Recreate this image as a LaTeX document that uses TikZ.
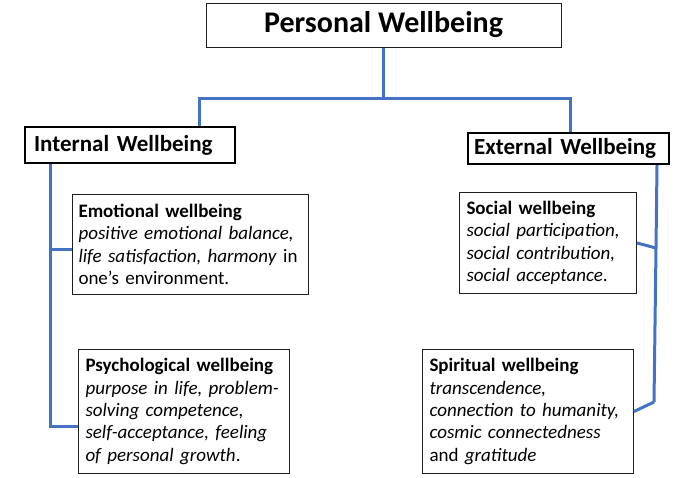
\documentclass[tikz,border=0pt]{standalone}
\usepackage{fontspec}
\setmainfont{Carlito}
\usepackage{tikz}
\usetikzlibrary{positioning, calc}
\definecolor{mydark}{RGB}{30,30,30}
\definecolor{myblue}{RGB}{68,114,196}
\tikzset{
  titlebox/.style={rectangle, draw=mydark, fill=white, line width=1pt,
    minimum width=355pt, minimum height=44pt, inner sep=0pt,
    font=\fontsize{30}{36}\selectfont\bfseries},
  groupbox/.style={rectangle, draw=black, fill=white, line width=2.2pt,
    align=left, inner ysep=0pt, minimum height=#1,
    font=\fontsize{23}{28}\selectfont\bfseries},
  itembox/.style={rectangle, draw=mydark, fill=white, line width=1pt,
    align=left, inner xsep=7pt, inner ysep=4pt, minimum height=#1,
    font=\fontsize{19}{22.4}\selectfont},
  branch/.style={line width=3pt, color=myblue}
}

\begin{document}
\begin{tikzpicture}[x=1pt, y=-1pt]
  \useasboundingbox (0,0) rectangle (677,477);

  % Top
  \node[titlebox] (personal) at (383.5,25) {Personal Wellbeing};

  % Internal / external
  \node[groupbox=36pt, inner xsep=9pt, text width=192pt, anchor=north west] (internal) at (24,126) {Internal Wellbeing};
  \node[groupbox=31pt, inner xsep=6pt, text width=189pt, anchor=north west] (external) at (467,132) {External Wellbeing};

  % Left column
  \node[itembox=100pt, inner xsep=6pt, text width=224pt, anchor=north west] (emotional) at (72,194)
    {\textbf{Emotional wellbeing}\\
     \textit{positive emotional balance,}\\
     \textit{life satisfaction, harmony} in\\
     one’s environment.};
  \node[itembox=124pt, text width=197pt, anchor=north west] (psych) at (78,349)
    {\textbf{Psychological wellbeing}\\
     \textit{purpose in life, problem-}\\
     \textit{solving competence,}\\
     \textit{self-acceptance, feeling}\\
     \textit{of personal growth}.};

  % Right column
  \node[itembox=101pt, text width=163pt, anchor=north west] (social) at (459,192)
    {\textbf{Social wellbeing}\\
     \textit{social participation,}\\
     \textit{social contribution,}\\
     \textit{social acceptance}.};
  \node[itembox=124pt, text width=197pt, anchor=north west] (spiritual) at (422,349)
    {\textbf{Spiritual wellbeing}\\
     \textit{transcendence,}\\
     \textit{connection to humanity,}\\
     \textit{cosmic connectedness}\\
     and \textit{gratitude}};

  % Connectors
  \coordinate (lhook) at (199,98);
  \coordinate (rhook) at (570,98);
  \coordinate (ls1) at (50,249);
  \coordinate (ls2) at (50,426);
  \coordinate (rs0) at (657,163);
  \coordinate (rs1) at (656,248);
  \coordinate (rs2) at (654,402);

  \draw[branch] (personal.south) -- (personal.south |- lhook);
  \draw[branch] (internal.north -| lhook) -- (lhook) -- (rhook) -- (rhook |- external.north);
  \draw[branch] (internal.south -| ls1) -- (ls2) -- (ls2 -| psych.west);
  \draw[branch] (ls1) -- (ls1 -| emotional.west);
  \draw[branch] (rs0 |- external.south) -- (rs1) -- (rs2);
  \draw[branch] (social.east) -- (rs1);
  \draw[branch] (spiritual.east) -- (rs2);
\end{tikzpicture}
\end{document}
